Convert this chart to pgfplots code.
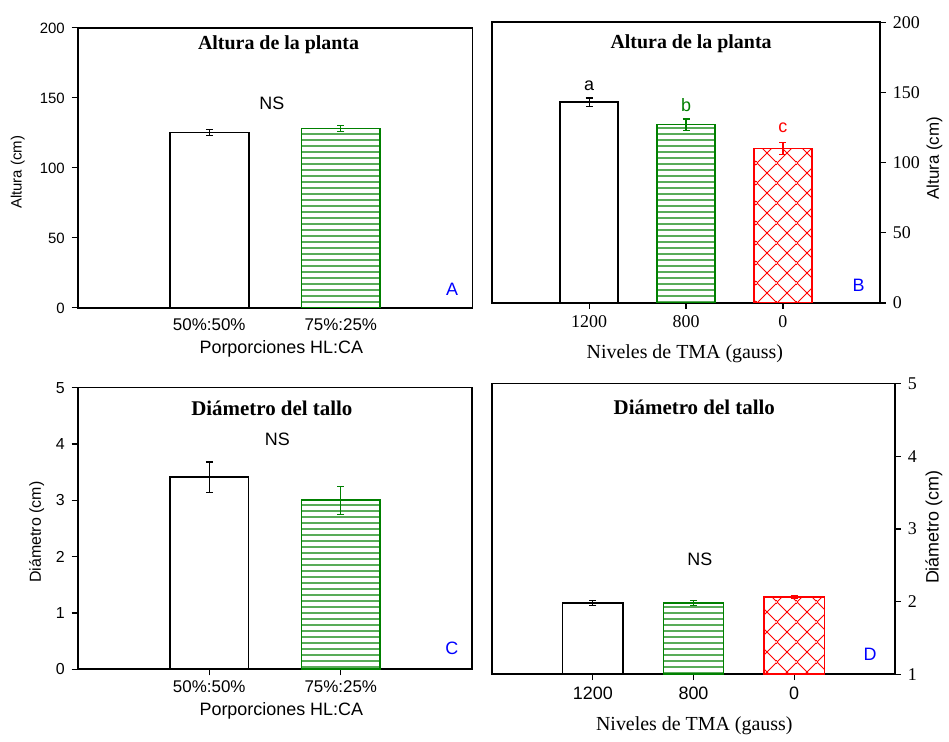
\documentclass[border=0pt]{standalone}
\usepackage{fontspec}
\setmainfont{Liberation Sans}
\newfontfamily\tnr{Liberation Serif}
\usepackage{pgfplots}
\pgfplotsset{compat=1.18}
\usetikzlibrary{patterns}
\definecolor{dgreen}{RGB}{0,128,0}
\definecolor{dblue}{RGB}{0,0,255}

\pgfdeclarepatterninherentlycolored{greenlines}
  {\pgfpointorigin}{\pgfpoint{2pt}{3pt}}{\pgfpoint{2pt}{3pt}}
  {\pgfsetfillcolor{dgreen}%
   \pgfpathrectangle{\pgfpoint{0pt}{1.2pt}}{\pgfpoint{2pt}{0.6pt}}%
   \pgfusepath{fill}}

\pgfdeclarepatterninherentlycolored{redcross}
  {\pgfpointorigin}{\pgfpoint{10pt}{10pt}}{\pgfpoint{10pt}{10pt}}
  {\pgfsetstrokecolor{red}\pgfsetfillcolor{red}\pgfsetlinewidth{0.45pt}%
   \pgfpathmoveto{\pgfpoint{-1pt}{-1pt}}\pgfpathlineto{\pgfpoint{11pt}{11pt}}%
   \pgfpathmoveto{\pgfpoint{-1pt}{11pt}}\pgfpathlineto{\pgfpoint{11pt}{-1pt}}%
   \pgfusepath{stroke}%
   \pgfpathcircle{\pgfpoint{5pt}{5pt}}{0.55pt}%
   \pgfpathcircle{\pgfpoint{0pt}{0pt}}{0.55pt}%
   \pgfpathcircle{\pgfpoint{10pt}{0pt}}{0.55pt}%
   \pgfpathcircle{\pgfpoint{0pt}{10pt}}{0.55pt}%
   \pgfpathcircle{\pgfpoint{10pt}{10pt}}{0.55pt}%
   \pgfusepath{fill}}

\pgfplotsset{
  panel/.style={
    scale only axis, ybar, bar width=0.6, bar shift=0pt,
    axis line style={line width=0.8pt},
    tick style={black, line width=0.6pt}, tick align=outside, major tick length=3pt,
    /pgf/number format/assume math mode=true,
    xtick pos=bottom,
    clip=true,
    xlabel style={anchor=center}, ylabel style={anchor=center},
  },
  whitebar/.style={draw=black, fill=white, line width=0.8pt,
    error bars/.cd, y dir=both, y explicit,
    error bar style={line width=0.6pt, black},
    error mark options={rotate=90, mark size=1.75pt, line width=0.6pt, black}},
  greenbar/.style={draw=dgreen, line width=0.8pt, fill=white,
    postaction={pattern=greenlines},
    error bars/.cd, y dir=both, y explicit,
    error bar style={line width=0.6pt, dgreen},
    error mark options={rotate=90, mark size=1.75pt, line width=0.6pt, dgreen}},
  redbar/.style={draw=red, line width=0.8pt, fill=white,
    postaction={pattern=redcross},
    error bars/.cd, y dir=both, y explicit,
    error bar style={line width=0.6pt, red},
    error mark options={rotate=90, mark size=1.75pt, line width=0.6pt, red}},
}

\begin{document}
\begin{tikzpicture}
\path (0,0) rectangle (474.5pt,369.5pt);

% ---------------- Panel A ----------------
\begin{axis}[panel,
  at={(39pt,215pt)}, anchor=south west,
  width=198pt, height=140.5pt,
  xmin=-1, xmax=2, ymin=0, ymax=200,
  ytick={0,50,100,150,200}, ytick pos=left,
  xtick={0,1}, xticklabels={50\%:50\%, 75\%:25\%},
  xtick style={draw=none},
  yticklabel style={font=\fontsize{7.5}{8}\selectfont},
  xticklabel style={font=\fontsize{8.5}{9}\selectfont, yshift=1pt},
  xlabel={Porporciones HL:CA},
  xlabel style={at={(axis description cs:0.516,-0.146)}, font=\fontsize{9}{10}\selectfont},
  ylabel={Altura (cm)},
  ylabel style={at={(axis description cs:-0.152,0.484)}, font=\fontsize{7.5}{8}\selectfont},
]
\addplot[whitebar] coordinates {(0,125.3) +- (0,2)};
\addplot[greenbar] coordinates {(1,128) +- (0,2)};
\node[font=\tnr\bfseries\fontsize{10}{11}\selectfont] at (rel axis cs:0.509,0.94) {Altura de la planta};
\node[font=\fontsize{9}{10}\selectfont] at (rel axis cs:0.492,0.732) {NS};
\node[font=\fontsize{9}{10}\selectfont, text=dblue] at (rel axis cs:0.949,0.065) {A};
\end{axis}

% ---------------- Panel B ----------------
\begin{axis}[panel,
  at={(247pt,217.5pt)}, anchor=south west,
  width=194.5pt, height=140.85pt,
  xmin=-1, xmax=3, ymin=0, ymax=200,
  ytick={0,50,100,150,200}, ytick pos=right,
  xtick={0,1,2}, xticklabels={1200,800,0},
  yticklabel style={font=\tnr\fontsize{9}{10}\selectfont},
  xticklabel style={font=\tnr\fontsize{9}{10}\selectfont},
  xlabel={Niveles de TMA (gauss)},
  xlabel style={at={(axis description cs:0.497,-0.181)}, font=\tnr\fontsize{10}{11}\selectfont},
  ylabel={Altura (cm)},
  ylabel style={at={(axis description cs:1.141,0.515)}, font=\fontsize{8.5}{9}\selectfont},
]
\addplot[whitebar] coordinates {(0,143) +- (0,3)};
\addplot[greenbar] coordinates {(1,127) +- (0,4)};
\addplot[redbar] coordinates {(2,110) +- (0,4.3)};
\node[font=\tnr\bfseries\fontsize{10}{11}\selectfont] at (rel axis cs:0.513,0.925) {Altura de la planta};
\node[font=\fontsize{9}{10}\selectfont] at (axis cs:0,155) {a};
\node[font=\fontsize{9}{10}\selectfont, text=dgreen] at (axis cs:1,140.6) {b};
\node[font=\fontsize{9}{10}\selectfont, text=red] at (axis cs:2,125) {c};
\node[font=\fontsize{9}{10}\selectfont, text=dblue] at (rel axis cs:0.945,0.064) {B};
\end{axis}

% ---------------- Panel C ----------------
\begin{axis}[panel,
  at={(39pt,33.65pt)}, anchor=south west,
  width=198pt, height=141.35pt,
  xmin=-1, xmax=2, ymin=0, ymax=5,
  ytick={0,1,2,3,4,5}, ytick pos=left,
  xtick={0,1}, xticklabels={50\%:50\%, 75\%:25\%},
  yticklabel style={font=\fontsize{8}{9}\selectfont},
  xticklabel style={font=\fontsize{8.5}{9}\selectfont, yshift=1pt},
  xlabel={Porporciones HL:CA},
  xlabel style={at={(axis description cs:0.516,-0.146)}, font=\fontsize{9}{10}\selectfont},
  ylabel={Diámetro (cm)},
  ylabel style={at={(axis description cs:-0.104,0.487)}, font=\fontsize{8}{9}\selectfont},
]
\addplot[whitebar] coordinates {(0,3.41) +- (0,0.27)};
\addplot[greenbar] coordinates {(1,3.0) +- (0,0.25)};
\node[font=\tnr\bfseries\fontsize{10.5}{11}\selectfont] at (rel axis cs:0.492,0.928) {Diámetro del tallo};
\node[font=\fontsize{9}{10}\selectfont] at (rel axis cs:0.506,0.817) {NS};
\node[font=\fontsize{9}{10}\selectfont, text=dblue] at (rel axis cs:0.948,0.073) {C};
\end{axis}

% ---------------- Panel D ----------------
\begin{axis}[panel,
  at={(247pt,31.15pt)}, anchor=south west,
  width=202pt, height=145.85pt,
  xmin=-1, xmax=3, ymin=1, ymax=5,
  ytick={1,2,3,4,5}, ytick pos=right,
  xtick={0,1,2}, xticklabels={1200,800,0},
  yticklabel style={font=\tnr\fontsize{9}{10}\selectfont},
  xticklabel style={font=\fontsize{9}{10}\selectfont},
  xlabel={Niveles de TMA (gauss)},
  xlabel style={at={(axis description cs:0.502,-0.176)}, font=\tnr\fontsize{10}{11}\selectfont},
  ylabel={Diámetro (cm)},
  ylabel style={at={(axis description cs:1.097,0.506)}, font=\fontsize{9}{10}\selectfont},
]
\addplot[whitebar] coordinates {(0,1.98) +- (0,0.03)};
\addplot[greenbar] coordinates {(1,1.98) +- (0,0.03)};
\addplot[redbar] coordinates {(2,2.06) +- (0,0.02)};
\node[font=\tnr\bfseries\fontsize{10.5}{11}\selectfont] at (rel axis cs:0.502,0.917) {Diámetro del tallo};
\node[font=\fontsize{9}{10}\selectfont] at (rel axis cs:0.516,0.397) {NS};
\node[font=\fontsize{9}{10}\selectfont, text=dblue] at (rel axis cs:0.939,0.067) {D};
\end{axis}
\end{tikzpicture}
\end{document}
